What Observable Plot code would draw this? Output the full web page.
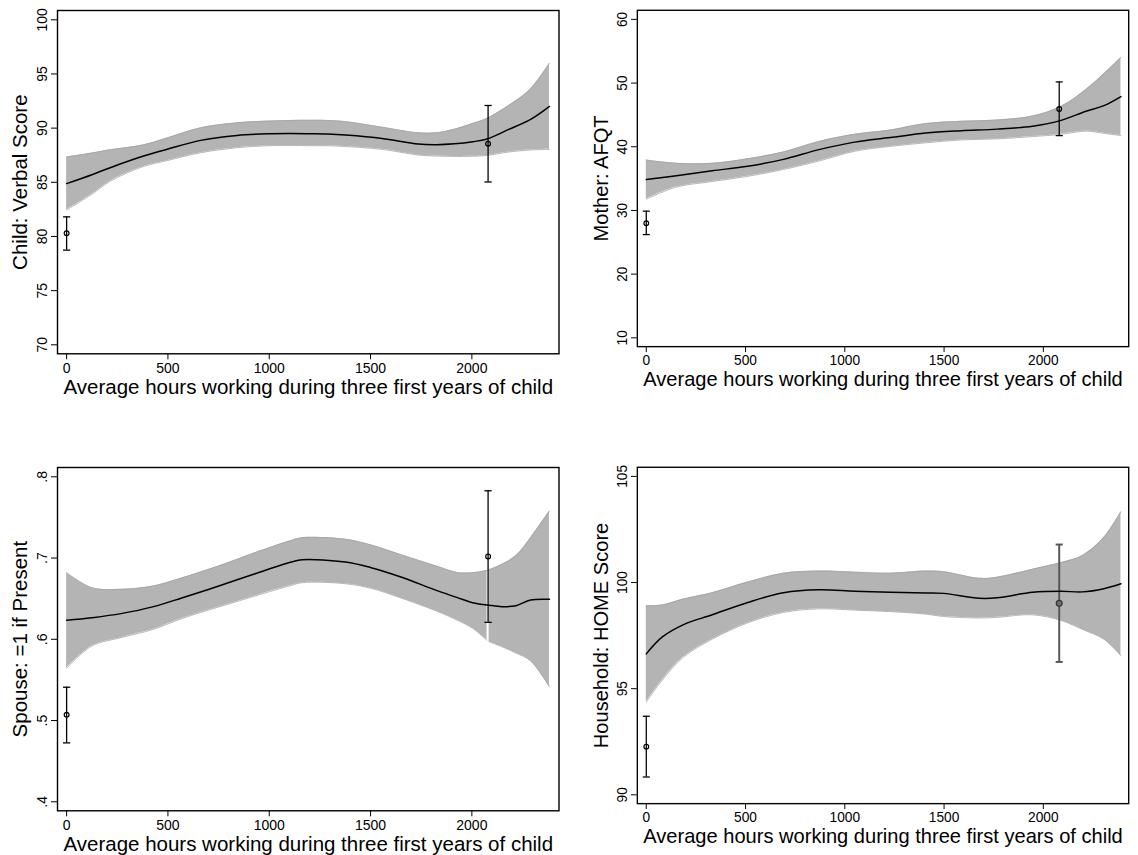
<!DOCTYPE html>
<html>
<head>
<meta charset="utf-8">
<script src="https://cdn.jsdelivr.net/npm/d3@7"></script>
<script src="https://cdn.jsdelivr.net/npm/@observablehq/plot@0.6"></script>
<style>
html, body { margin: 0; padding: 0; background: #fff; overflow: hidden; width: 1138px; height: 855px; }
.panel { position: absolute; }
</style>
</head>
<body>
<div id="root"></div>
<script>
// ---------- shared ----------
const xLabel = "Average hours working during three first years of child";
const xTicks = [0, 500, 1000, 1500, 2000];
const errHours = [0, 2080];

// ---------- panel 1: Child: Verbal Score ----------
const p1Label = "Child: Verbal Score";
const p1YTicks = [70, 75, 80, 85, 90, 95, 100];
const p1YTickLabels = ["70", "75", "80", "85", "90", "95", "100"];
const p1Hours = [0, 125, 215, 376, 500, 662, 841, 1002, 1109, 1199, 1288, 1377, 1556, 1735, 1825, 1914, 2004, 2075, 2182, 2290, 2383];
const p1Fit   = [84.88, 85.7, 86.35, 87.4, 88.07, 88.87, 89.33, 89.48, 89.5, 89.48, 89.45, 89.36, 89.05, 88.53, 88.47, 88.55, 88.74, 89.0, 89.88, 90.8, 92.0];
const p1Upper = [87.33, 87.7, 88.0, 88.44, 89.11, 90.03, 90.49, 90.65, 90.71, 90.72, 90.71, 90.6, 90.09, 89.57, 89.57, 89.9, 90.43, 90.9, 92.09, 93.62, 95.98];
const p1Lower = [82.45, 83.9, 85.1, 86.44, 87.02, 87.73, 88.19, 88.38, 88.4, 88.38, 88.37, 88.3, 88.04, 87.52, 87.42, 87.39, 87.4, 87.48, 87.8, 87.98, 88.04];
const p1ErrEst = [80.3, 88.56];
const p1ErrLo  = [78.74, 85.03];
const p1ErrHi  = [81.81, 92.09];

// ---------- panel 2: Mother: AFQT ----------
const p2Label = "Mother: AFQT";
const p2YTicks = [10, 20, 30, 40, 50, 60];
const p2YTickLabels = ["10", "20", "30", "40", "50", "60"];
const p2Hours = [0, 152, 332, 511, 691, 870, 1049, 1229, 1408, 1587, 1767, 1946, 2090, 2215, 2305, 2391];
const p2Fit   = [34.85, 35.46, 36.23, 36.94, 38.02, 39.55, 40.73, 41.44, 42.16, 42.52, 42.77, 43.23, 44.15, 45.58, 46.45, 47.88];
const p2Upper = [37.91, 37.4, 37.4, 38.12, 39.19, 40.83, 41.95, 42.62, 43.64, 44.0, 44.2, 44.82, 46.35, 49.0, 51.46, 54.02];
const p2Lower = [31.78, 33.67, 34.54, 35.36, 36.43, 37.76, 39.29, 40.06, 40.62, 41.08, 41.24, 41.6, 41.95, 42.46, 42.11, 41.75];
const p2ErrEst = [28.0, 45.94];
const p2ErrLo  = [26.21, 41.75];
const p2ErrHi  = [29.89, 50.18];

// ---------- panel 3: Spouse: =1 if Present ----------
const p3Label = "Spouse: =1 if Present";
const p3YTicks = [0.4, 0.5, 0.6, 0.7, 0.8];
const p3YTickLabels = [".4", ".5", ".6", ".7", ".8"];
const p3Hours = [0, 125, 268, 429, 572, 751, 930, 1109, 1163, 1377, 1503, 1646, 1825, 1932, 2004, 2075, 2085, 2147, 2218, 2290, 2383];
const p3Fit   = [0.6234, 0.6266, 0.6316, 0.6402, 0.6512, 0.6656, 0.6807, 0.6951, 0.698, 0.6951, 0.6881, 0.677, 0.6602, 0.651, 0.6451, 0.6422, 0.642, 0.6402, 0.6414, 0.6484, 0.6492];
const p3Upper = [0.682, 0.6635, 0.6615, 0.6656, 0.6758, 0.6902, 0.7066, 0.7217, 0.725, 0.723, 0.716, 0.7045, 0.6902, 0.682, 0.682, 0.6848, 0.6855, 0.692, 0.703, 0.725, 0.7578];
const p3Lower = [0.5643, 0.5918, 0.602, 0.6123, 0.6258, 0.6398, 0.6533, 0.6664, 0.6697, 0.6684, 0.6627, 0.6512, 0.6348, 0.623, 0.6135, 0.5988, 0.5971, 0.591, 0.583, 0.5734, 0.5414];
const p3ErrEst = [0.507, 0.702];
const p3ErrLo  = [0.4725, 0.6209];
const p3ErrHi  = [0.541, 0.7828];

// ---------- panel 4: Household: HOME Score ----------
const p4Label = "Household: HOME Score";
const p4YTicks = [90, 95, 100, 105];
const p4YTickLabels = ["90", "95", "100", "105"];
const p4Hours = [0, 81, 188, 332, 511, 691, 870, 1049, 1229, 1408, 1498, 1677, 1767, 1946, 2090, 2197, 2305, 2391];
const p4Fit   = [96.64, 97.44, 98.02, 98.48, 99.06, 99.52, 99.66, 99.59, 99.54, 99.51, 99.49, 99.26, 99.28, 99.54, 99.59, 99.56, 99.71, 99.94];
const p4Upper = [98.91, 98.94, 99.22, 99.52, 100.02, 100.44, 100.54, 100.49, 100.44, 100.54, 100.51, 100.2, 100.25, 100.63, 100.94, 101.27, 102.13, 103.34];
const p4Lower = [94.37, 95.41, 96.49, 97.33, 98.1, 98.59, 98.76, 98.7, 98.63, 98.51, 98.4, 98.33, 98.36, 98.48, 98.21, 97.79, 97.33, 96.55];
const p4ErrEst = [92.27, 99.02];
const p4ErrLo  = [90.84, 96.26];
const p4ErrHi  = [93.7, 101.79];

// ---------- layout / style options ----------
const FONT = "'Liberation Sans', Arial, Helvetica, sans-serif";
const panels = [
  {label: p1Label, yTicks: p1YTicks, yTickLabels: p1YTickLabels, hours: p1Hours, fit: p1Fit, upper: p1Upper, lower: p1Lower,
   est: p1ErrEst, lo: p1ErrLo, hi: p1ErrHi, left: 0, top: 0, split: null, errStyle: [{}, {}]},
  {label: p2Label, yTicks: p2YTicks, yTickLabels: p2YTickLabels, hours: p2Hours, fit: p2Fit, upper: p2Upper, lower: p2Lower,
   est: p2ErrEst, lo: p2ErrLo, hi: p2ErrHi, left: 580.5, top: 0, split: null, errStyle: [{}, {}]},
  {label: p3Label, yTicks: p3YTicks, yTickLabels: p3YTickLabels, hours: p3Hours, fit: p3Fit, upper: p3Upper, lower: p3Lower,
   est: p3ErrEst, lo: p3ErrLo, hi: p3ErrHi, left: 0, top: 457, split: 2080, errStyle: [{}, {}]},
  {label: p4Label, yTicks: p4YTicks, yTickLabels: p4YTickLabels, hours: p4Hours, fit: p4Fit, upper: p4Upper, lower: p4Lower,
   est: p4ErrEst, lo: p4ErrLo, hi: p4ErrHi, left: 580.5, top: 457, split: null,
   errStyle: [{}, {stroke: "#555", strokeWidth: 2, dotFill: "#6e6e6e", r: 3}]}
];

const capSymbol = {
  draw(context, size) {
    const w = Math.sqrt(size / Math.PI);
    context.moveTo(-w, 0);
    context.lineTo(w, 0);
  }
};

function makePanel(p) {
  const band = p.hours.map((h, i) => ({
    h, fit: p.fit[i], lo: p.lower[i], hi: p.upper[i],
    seg: p.split != null && h > p.split ? 1 : 0
  }));
  const err = errHours.map((h, i) => ({h, est: p.est[i], lo: p.lo[i], hi: p.hi[i]}));
  const tMin = d3.min(p.yTicks), tMax = d3.max(p.yTicks), range = tMax - tMin;
  const yDomain = [tMin - range * 0.0277, tMax + range * 0.0286];
  const tickMap = new Map(p.yTicks.map((t, i) => [t, p.yTickLabels[i]]));
  const curve = "catmull-rom";

  const errMarks = [];
  err.forEach((d, i) => {
    const s = p.errStyle[i] || {};
    const stroke = s.stroke || "black";
    const sw = s.strokeWidth || 1.3;
    errMarks.push(
      Plot.ruleX([d], {x: "h", y1: "lo", y2: "hi", stroke, strokeWidth: sw}),
      Plot.dot([d], {x: "h", y: "lo", symbol: capSymbol, r: 3.6, fill: "none", stroke, strokeWidth: sw}),
      Plot.dot([d], {x: "h", y: "hi", symbol: capSymbol, r: 3.6, fill: "none", stroke, strokeWidth: sw})
    );
  });
  const dotMarks = err.map((d, i) => {
    const s = p.errStyle[i] || {};
    return Plot.dot([d], {x: "h", y: "est", r: s.r || 2.4, fill: s.dotFill || "none",
      stroke: s.stroke ? "#333" : "black", strokeWidth: 1.2});
  });

  return Plot.plot({
    width: 569,
    height: 400,
    marginLeft: 57,
    marginRight: 10.5,
    marginTop: 10,
    marginBottom: 46.7,
    style: {fontFamily: FONT, background: "white", overflow: "visible", color: "black"},
    x: {domain: [-45, 2430]},
    y: {domain: yDomain},
    marks: [
      Plot.areaY(band, {x: "h", y1: "lo", y2: "hi", z: "seg", fill: "#b4b4b4", curve}),
      Plot.line(band, {x: "h", y: "lo", z: "seg", stroke: "#a4a4a4", strokeWidth: 0.8, curve}),
      Plot.line(band, {x: "h", y: "hi", z: "seg", stroke: "#a4a4a4", strokeWidth: 0.8, curve}),
      ...errMarks,
      Plot.line(band, {x: "h", y: "fit", stroke: "black", strokeWidth: 1.5, curve}),
      ...dotMarks,
      Plot.axisX({ticks: xTicks, tickFormat: d => String(d), tickSize: 6, tickPadding: 3, fontSize: 14, label: null}),
      Plot.axisY({ticks: p.yTicks, tickFormat: d => tickMap.get(d), tickRotate: -90, tickSize: 6,
        tickPadding: 5, fontSize: 14, label: null}),
      Plot.frame({stroke: "black", strokeWidth: 1.4}),
      Plot.text([xLabel], {text: d => d, frameAnchor: "bottom", dy: 34, fontSize: 20.5, lineAnchor: "middle", textAnchor: "middle"}),
      Plot.text([p.label], {text: d => d, frameAnchor: "left", dx: -37, rotate: -90, fontSize: 20.5, lineAnchor: "middle", textAnchor: "middle"})
    ]
  });
}

const root = document.getElementById("root");
for (const p of panels) {
  const div = document.createElement("div");
  div.className = "panel";
  div.style.left = p.left + "px";
  div.style.top = p.top + "px";
  div.appendChild(makePanel(p));
  root.appendChild(div);
}
</script>
</body>
</html>
